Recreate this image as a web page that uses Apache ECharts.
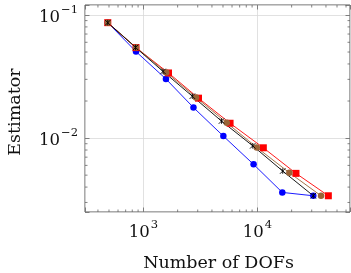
<!DOCTYPE html>
<html>
<head>
<meta charset="utf-8">
<script src="https://cdn.jsdelivr.net/npm/echarts@6/dist/echarts.min.js"></script>
<style>
  html, body { margin: 0; padding: 0; background: #fff; }
  #chart { width: 351px; height: 273px; }
</style>
</head>
<body>
<div id="chart"></div>
<script>
// axis ranges (log scale)
var xMin = 308, xMax = 65000;
var yMin = 0.00251, yMax = 0.1205;

// minor tick positions
var xMinor = [400, 500, 600, 700, 800, 900, 2000, 3000, 4000, 5000, 6000, 7000, 8000, 9000, 20000, 30000, 40000, 50000, 60000];
var yMinor = [0.003, 0.004, 0.005, 0.006, 0.007, 0.008, 0.009, 0.02, 0.03, 0.04, 0.05, 0.06, 0.07, 0.08, 0.09];

// series (DOFs, estimator)
var blueDofs = [488, 863, 1580, 2754, 5036, 9270, 16560, 30970];
var blueEst = [0.0866, 0.0504, 0.0302, 0.0177, 0.01038, 0.00612, 0.00362, 0.00340];

var blackDofs = [488, 855, 1489, 2692, 4850, 9120, 16700, 30970];
var blackEst = [0.0866, 0.0545, 0.0348, 0.0219, 0.01375, 0.00865, 0.00540, 0.00340];

var brownDofs = [488, 863, 1588, 2898, 5395, 9890, 19100, 36200];
var brownEst = [0.0866, 0.0545, 0.0341, 0.0214, 0.0133, 0.00839, 0.00523, 0.00340];

var redDofs = [488, 863, 1664, 3048, 5768, 11290, 21830, 41970];
var redEst = [0.0866, 0.0543, 0.0338, 0.0211, 0.0132, 0.00834, 0.00517, 0.00340];

function pairs(xs, ys) {
    return xs.map(function (x, i) { return [x, ys[i]]; });
}

var FONT = 'DejaVu Serif';

function powLabel(v) {
    var e = Math.log10(v);
    var r = Math.round(e);
    if (Math.abs(e - r) > 1e-6) return '';
    var s = String(r).replace('-', '\u2212');
    return '{b|10}{s|' + s + '}';
}

var labelRich = {
    b: { fontFamily: FONT, fontSize: 16.5, color: '#111', lineHeight: 22, verticalAlign: 'bottom' },
    s: { fontFamily: FONT, fontSize: 11.5, color: '#111', lineHeight: 22, verticalAlign: 'top', padding: [0, 0, 0, 1] }
};

var tickStyle = { color: '#666', width: 0.8 };
var gridLine = { show: true, lineStyle: { color: '#d9d9d9', width: 0.8 } };

function xAx(pos, showLabel) {
    return {
        type: 'log', logBase: 10, min: xMin, max: xMax, position: pos,
        axisLine: { show: false },
        axisTick: { show: true, inside: true, length: 4.5, lineStyle: tickStyle },
        axisLabel: { show: showLabel, margin: 7, formatter: powLabel, rich: labelRich },
        splitLine: showLabel ? gridLine : { show: false }
    };
}
function yAx(pos, showLabel) {
    return {
        type: 'log', logBase: 10, min: yMin, max: yMax, position: pos,
        axisLine: { show: false },
        axisTick: { show: true, inside: true, length: 4.5, lineStyle: tickStyle },
        axisLabel: { show: showLabel, margin: 7, formatter: powLabel, rich: labelRich },
        splitLine: showLabel ? gridLine : { show: false }
    };
}

function minorX(params, api) {
    var b = api.coord([api.value(0), yMin]);
    var t = api.coord([api.value(0), yMax]);
    return { type: 'group', children: [
        { type: 'line', shape: { x1: b[0], y1: b[1], x2: b[0], y2: b[1] - 2.5 }, style: { stroke: '#666', lineWidth: 0.8 } },
        { type: 'line', shape: { x1: t[0], y1: t[1], x2: t[0], y2: t[1] + 2.5 }, style: { stroke: '#666', lineWidth: 0.8 } }
    ]};
}
function minorY(params, api) {
    var l = api.coord([xMin, api.value(1)]);
    var r = api.coord([xMax, api.value(1)]);
    return { type: 'group', children: [
        { type: 'line', shape: { x1: l[0], y1: l[1], x2: l[0] + 2.5, y2: l[1] }, style: { stroke: '#666', lineWidth: 0.8 } },
        { type: 'line', shape: { x1: r[0], y1: r[1], x2: r[0] - 2.5, y2: r[1] }, style: { stroke: '#666', lineWidth: 0.8 } }
    ]};
}

function lineSeries(name, data, color, symbol, size, extra) {
    var s = {
        name: name, type: 'line', data: data,
        symbol: symbol, symbolSize: size,
        showAllSymbol: true,
        lineStyle: { color: color, width: 0.9 },
        itemStyle: { color: color },
        emphasis: { disabled: true }
    };
    if (extra) Object.assign(s.itemStyle, extra);
    return s;
}

var chart = echarts.init(document.getElementById('chart'), null, { renderer: 'canvas' });
chart.setOption({
    animation: false,
    grid: {
        left: 85, right: 1, top: 5, bottom: 61,
        show: true, borderColor: '#555', borderWidth: 1, backgroundColor: 'transparent',
        outerBoundsMode: 'none'
    },
    xAxis: [xAx('bottom', true), xAx('top', false)],
    yAxis: [yAx('left', true), yAx('right', false)],
    graphic: [
        { type: 'text', x: 218.5, y: 263, style: { text: 'Number of DOFs', font: '17.5px "DejaVu Serif"', fill: '#111', align: 'center', verticalAlign: 'middle' } },
        { type: 'text', x: 15, y: 112, rotation: Math.PI / 2, style: { text: 'Estimator', font: '17.5px "DejaVu Serif"', fill: '#111', align: 'center', verticalAlign: 'middle' } }
    ],
    series: [
        { type: 'custom', renderItem: minorX, data: xMinor.map(function (v) { return [v, yMin]; }), silent: true },
        { type: 'custom', renderItem: minorY, data: yMinor.map(function (v) { return [xMin, v]; }), silent: true },
        lineSeries('blue', pairs(blueDofs, blueEst), '#0000ff', 'circle', 6.5),
        lineSeries('red', pairs(redDofs, redEst), '#ff0000', 'rect', 7),
        lineSeries('brown', pairs(brownDofs, brownEst), '#9a6436', 'circle', 6.5),
        lineSeries('black', pairs(blackDofs, blackEst), '#000', 'path://M0,0L10,10M10,0L0,10M5,0L5,10', 5.5,
            { borderColor: '#000', borderWidth: 0.9 })
    ]
});
</script>
</body>
</html>
